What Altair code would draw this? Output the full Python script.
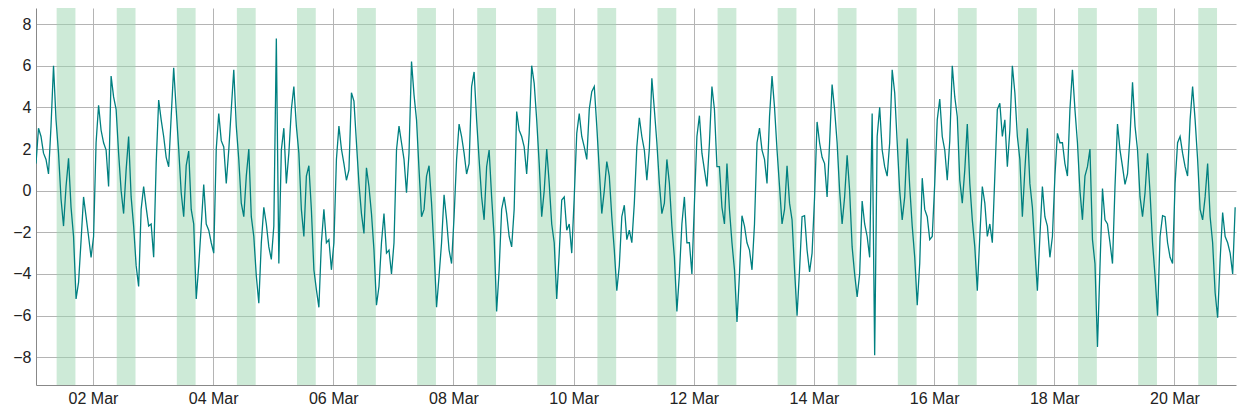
import pandas as pd
import altair as alt

# hourly readings, starting 01 Mar 01:15
values = [
    1.3, 3.0, 2.6, 1.8, 1.5, 0.8, 3.1, 6.0, 3.4, 1.8,
    -0.4, -1.7, 0.2, 1.55, -0.8, -2.2, -5.2, -4.4, -2.4, -0.3,
    -1.25, -2.2, -3.2, -2.2, 2.3, 4.1, 2.9, 2.3, 1.95, 0.2,
    5.5, 4.5, 3.9, 1.8, 0.0, -1.1, 1.0, 2.6, -0.3, -1.7,
    -3.6, -4.6, -0.9, 0.2, -0.8, -1.7, -1.6, -3.2, 1.3, 4.35,
    3.4, 2.6, 1.6, 1.15, 3.55, 5.9, 3.9, 2.0, -0.1, -1.25,
    1.2, 1.9, -0.9, -1.6, -5.2, -3.6, -1.7, 0.3, -1.6, -1.9,
    -2.5, -3.0, 2.0, 3.7, 2.4, 2.1, 0.35, 1.95, 3.9, 5.8,
    3.1, 1.5, -0.6, -1.25, 0.7, 2.0, -1.25, -2.2, -4.1, -5.4,
    -2.5, -0.8, -1.6, -2.7, -3.3, -1.7, 7.3, -3.5, 1.95, 3.0,
    0.35, 1.8, 3.9, 5.0, 3.1, 1.8, -0.9, -2.2, 0.7, 1.2,
    -0.9, -3.8, -4.75, -5.6, -2.5, -0.9, -2.5, -2.35, -3.8, -2.5,
    1.5, 3.1, 2.0, 1.3, 0.5, 1.0, 4.7, 4.3, 2.3, 0.35,
    -1.1, -2.05, 1.1, 0.2, -1.1, -2.85, -5.5, -4.6, -2.5, -1.1,
    -3.0, -2.85, -4.0, -2.5, 1.95, 3.1, 2.3, 1.5, -0.1, 1.8,
    6.2, 4.6, 3.4, 1.0, -1.25, -0.9, 0.7, 1.2, -0.6, -2.85,
    -5.6, -4.1, -2.5, -0.2, -1.4, -2.85, -3.5, -1.25, 1.5, 3.2,
    2.6, 1.8, 0.8, 1.3, 5.0, 5.7, 3.4, 1.5, -0.3, -1.4,
    1.15, 1.95, -0.3, -2.2, -5.8, -3.8, -0.9, -0.3, -1.1, -2.2,
    -2.7, -0.9, 3.8, 2.9, 2.6, 2.1, 0.8, 2.75, 6.0, 5.15,
    3.4, 1.3, -1.25, 0.0, 2.0, 0.35, -1.6, -2.5, -5.2, -3.0,
    -0.45, -0.3, -1.9, -1.6, -3.0, -0.3, 2.75, 3.7, 2.6, 2.1,
    1.5, 3.9, 4.75, 5.0, 3.1, 1.0, -1.1, 0.0, 1.4, 0.7,
    -1.25, -2.85, -4.8, -3.6, -1.25, -0.7, -2.35, -1.9, -2.5, -0.6,
    2.1, 3.5, 2.6, 1.95, 0.5, 2.0, 5.4, 3.9, 2.3, 0.35,
    -1.1, -0.6, 1.5, 0.35, -1.7, -3.2, -5.8, -4.0, -1.6, -0.3,
    -2.5, -2.5, -4.0, -0.6, 2.6, 3.6, 1.8, 1.0, 0.2, 2.3,
    5.0, 3.9, 1.15, 1.15, -0.8, -1.6, 1.3, -0.9, -2.5, -3.8,
    -6.3, -4.0, -1.2, -1.7, -2.5, -2.85, -3.8, -1.6, 2.3, 3.0,
    1.95, 1.5, 0.35, 3.55, 5.5, 4.0, 1.95, 0.2, -1.6, -0.9,
    1.2, -0.6, -1.4, -3.8, -6.0, -3.8, -1.25, -1.2, -2.85, -3.9,
    -3.0, -0.3, 3.3, 2.3, 1.6, 1.3, -0.3, 2.3, 5.1, 3.9,
    2.3, 0.0, -1.6, -0.3, 1.7, 0.0, -2.7, -4.0, -5.1, -4.0,
    -0.5, -1.6, -2.2, -3.2, 3.7, -7.9, 2.6, 4.0, 1.95, 1.15,
    0.7, 2.3, 5.8, 4.7, 2.3, 0.0, -1.4, -0.3, 2.5, 0.2,
    -1.7, -3.2, -5.5, -3.5, 0.6, -0.9, -1.25, -2.35, -2.2, 0.35,
    3.4, 4.4, 2.6, 1.95, 0.5, 2.4, 6.0, 4.5, 3.55, 0.5,
    -0.6, 1.0, 3.2, 0.35, -1.4, -2.7, -4.8, -2.2, 0.2, -0.6,
    -2.2, -1.6, -2.5, 0.7, 3.9, 4.2, 2.6, 3.4, 1.15, 2.9,
    6.0, 4.7, 2.6, 1.5, -1.25, 1.0, 3.0, 0.35, -0.8, -2.85,
    -4.8, -2.2, 0.2, -1.25, -1.7, -3.2, -2.2, 0.7, 2.75, 2.3,
    2.3, 1.3, 0.7, 3.9, 5.8, 3.9, 2.3, 0.0, -1.4, 0.7,
    1.15, 2.0, -2.35, -3.5, -7.5, -3.65, 0.1, -1.4, -1.6, -2.5,
    -3.5, 0.2, 3.2, 1.95, 1.15, 0.3, 0.8, 2.6, 5.2, 3.1,
    1.95, -0.3, -1.25, -0.1, 1.8, -0.1, -2.5, -4.1, -6.0, -2.2,
    -1.2, -1.25, -2.5, -3.2, -3.5, 0.35, 2.3, 2.6, 1.8, 1.15,
    0.7, 3.4, 5.0, 3.4, 1.5, -0.9, -1.4, -0.3, 1.3, -1.25,
    -2.5, -4.9, -6.1, -3.3, -1.05, -2.2, -2.5, -3.0, -4.0, -0.8,
]

# shaded period each day (hours)
band_days = list(range(1, 21))
band_start_hour = 9.5
band_end_hour = 17.0

y_ticks = [-8, -6, -4, -2, 0, 2, 4, 6, 8]
x_tick_days = [2, 4, 6, 8, 10, 12, 14, 16, 18, 20]

times = pd.date_range("2024-03-01 01:15", periods=len(values), freq="h")
series = pd.DataFrame({"time": times, "value": values})

day0 = pd.Timestamp("2024-03-01")
bands = pd.DataFrame({
    "start": [day0 + pd.Timedelta(days=d - 1, hours=band_start_hour) for d in band_days],
    "end": [day0 + pd.Timedelta(days=d - 1, hours=band_end_hour) for d in band_days],
})

x_scale = alt.Scale(domain=[
    alt.DateTime(year=2024, month=3, date=1, hours=1, minutes=15),
    alt.DateTime(year=2024, month=3, date=21, hours=0, minutes=35),
])
y_scale = alt.Scale(domain=[-9.33, 8.77], nice=False, zero=False)

x_axis = alt.Axis(
    values=[alt.DateTime(year=2024, month=3, date=d) for d in x_tick_days],
    format="%d %b", title=None, ticks=False, labelPadding=5,
)

shade = alt.Chart(bands).mark_rect(color="#9bd6b0", opacity=0.5).encode(
    x=alt.X("start:T", scale=x_scale, axis=x_axis),
    x2="end:T",
)

line = alt.Chart(series).mark_line(color="#008080", strokeWidth=1.3, clip=True).encode(
    x=alt.X("time:T", scale=x_scale, axis=x_axis),
    y=alt.Y("value:Q", scale=y_scale,
            axis=alt.Axis(values=y_ticks, title=None, ticks=False, labelPadding=5)),
)

chart = alt.layer(shade, line).properties(
    width=1200, height=377,
    autosize=alt.AutoSizeParams(type="none"),
    padding={"left": 28, "top": 0, "right": 12, "bottom": 24},
).configure_view(
    stroke=None
).configure_axis(
    gridColor="#b4b4b4", gridWidth=1, domainColor="#888888",
    labelFont="Liberation Sans", labelFontSize=16, labelColor="#222222",
)

chart.save("out.html", embed_options={"renderer": "svg", "actions": False})
